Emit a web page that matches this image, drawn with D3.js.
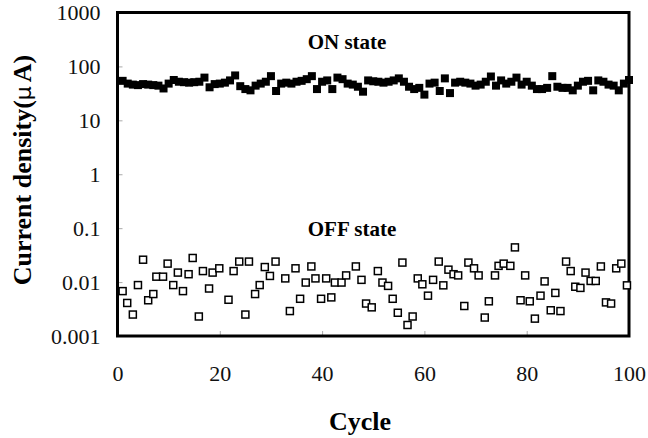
<!DOCTYPE html>
<html>
<head>
<meta charset="utf-8">
<script src="https://cdn.jsdelivr.net/npm/d3@7"></script>
<style>
  body { margin: 0; background: white; }
</style>
</head>
<body>
<div id="chart"></div>
<script>
"use strict"

const onCycles = d3.range(1, 101);
const onValues = [
  54, 48, 46, 45, 47, 46, 45, 44, 39, 48,
  56, 52, 51, 50, 51, 52, 62, 41, 47, 48,
  50, 55, 68, 43, 38, 36, 44, 48, 52, 66,
  35, 48, 50, 48, 52, 54, 58, 66, 38, 52,
  55, 38, 62, 58, 48, 46, 42, 34, 55, 53,
  52, 50, 52, 55, 60, 52, 42, 38, 40, 30,
  48, 50, 35, 60, 32, 50, 52, 50, 48, 44,
  46, 52, 65, 44, 55, 48, 52, 62, 46, 52,
  44, 38, 38, 40, 66, 42, 40, 40, 36, 44,
  52, 54, 36, 55, 52, 46, 44, 36, 48, 56
];

const offCycles = [
  1, 1.9, 3, 4, 5, 6, 7, 7.6, 8.9, 9.8,
  10.9, 11.8, 12.8, 13.9, 14.7, 15.9, 16.7, 17.9, 18.6, 19.9,
  21.7, 22.7, 23.8, 25, 25.7, 26.9, 27.8, 28.8, 29.8, 30.9,
  32.8, 33.7, 34.8, 35.7, 36.8, 37.9, 38.7, 39.8, 40.8, 41.8,
  42.5, 43.8, 44.7, 46.6, 47.7, 48.6, 49.7, 50.9, 51.8, 52.9,
  53.8, 54.8, 55.7, 56.7, 57.7, 58.7, 59.6, 60.7, 61.7, 62.8,
  63.7, 64.7, 65.7, 66.6, 67.8, 68.6, 69.7, 70.6, 71.8, 72.6,
  73.8, 74.5, 75.5, 76.8, 77.7, 78.8, 79.7, 80.6, 81.6, 82.7,
  83.5, 84.7, 85.6, 86.6, 87.7, 88.6, 89.5, 90.5, 91.5, 92.5,
  93.5, 94.5, 95.5, 96.5, 97.5, 98.5, 99.6
];
const offValues = [
  0.0068, 0.0041, 0.0025, 0.0088, 0.026, 0.0046, 0.006, 0.0126, 0.0126, 0.022,
  0.0088, 0.015, 0.0068, 0.014, 0.028, 0.0023, 0.016, 0.0076, 0.015, 0.018,
  0.0047, 0.016, 0.024, 0.0025, 0.024, 0.006, 0.0088, 0.019, 0.013, 0.024,
  0.0117, 0.0029, 0.018, 0.0049, 0.0098, 0.0195, 0.0117, 0.0049, 0.0117, 0.0052,
  0.0098, 0.0098, 0.0133, 0.0195, 0.011, 0.004, 0.0034, 0.016, 0.0098, 0.0085,
  0.0049, 0.0027, 0.023, 0.0016, 0.0023, 0.0117, 0.0091, 0.0056, 0.011, 0.024,
  0.0087, 0.017, 0.014, 0.0133, 0.0036, 0.023, 0.018, 0.0133, 0.0022, 0.0044,
  0.0133, 0.02, 0.022, 0.02, 0.044, 0.0046, 0.0133, 0.0044, 0.0021, 0.0056,
  0.0103, 0.003, 0.0063, 0.0029, 0.024, 0.016, 0.0082, 0.0078, 0.015, 0.0105,
  0.0105, 0.0195, 0.0042, 0.004, 0.018, 0.022, 0.0087
];

const xTicks = [0, 20, 40, 60, 80, 100];
const yTicks = [0.001, 0.01, 0.1, 1, 10, 100, 1000];
const yTickLabels = ["0.001", "0.01", "0.1", "1", "10", "100", "1000"];

const seriesLabels = ["ON state", "OFF state"];
const xTitle = "Cycle";


function render(containerSelector) {
  let width = 648, height = 438;
  let left = 117.5, right = 629, top = 12.5, bottom = 336;
  let font = '"Liberation Serif", "Times New Roman", serif';

  let svg = (
    d3.select(containerSelector)
      .append('svg')
      .attr('width', width)
      .attr('height', height)
      .style('font-family', font));

  let x = d3.scaleLinear().domain([0, 100]).range([left, right]);
  let y = d3.scaleLog().domain([0.001, 1000]).range([bottom, top]);

  // Axes with short grey ticks pointing into the plot
  let xAxis = (svg.append('g')
    .attr('transform', `translate(0,${bottom})`)
    .call(d3.axisBottom(x).tickValues(xTicks).tickSizeInner(-5).tickSizeOuter(0).tickPadding(29)));
  let yAxis = (svg.append('g')
    .attr('transform', `translate(${left},0)`)
    .call(d3.axisLeft(y).tickValues(yTicks).tickFormat((d, i) => yTickLabels[i])
      .tickSizeInner(-5).tickSizeOuter(0).tickPadding(17)));

  for (let ax of [xAxis, yAxis]) {
    ax.select('.domain').remove();
    ax.selectAll('line').attr('stroke', '#aaa');
    (ax.selectAll('text')
      .attr('fill', '#111')
      .style('font-family', font)
      .style('font-size', '22px'));
  }

  // Draw frame
  (svg.append('rect')
    .attr('x', left)
    .attr('y', top)
    .attr('width', right - left)
    .attr('height', bottom - top)
    .attr('fill', 'none')
    .attr('stroke', '#000')
    .attr('stroke-width', 3));

  // Draw ON state points
  let fs = 8;
  (svg.append('g')
    .selectAll('rect')
      .data(onValues)
    .enter()
      .append('rect')
        .attr('x', (d, i) => x(onCycles[i]) - fs / 2)
        .attr('y', (d) => y(d) - fs / 2)
        .attr('width', fs)
        .attr('height', fs)
        .attr('fill', '#000'));

  // Draw OFF state points
  let os = 7;
  (svg.append('g')
    .selectAll('rect')
      .data(offValues)
    .enter()
      .append('rect')
        .attr('x', (d, i) => x(offCycles[i]) - os / 2)
        .attr('y', (d) => y(d) - os / 2)
        .attr('width', os)
        .attr('height', os)
        .attr('fill', '#fff')
        .attr('stroke', '#000')
        .attr('stroke-width', 1.5));

  // Series labels
  (svg.selectAll('text.series')
    .data(seriesLabels)
    .enter()
      .append('text')
        .attr('class', 'series')
        .attr('x', (d, i) => i == 0 ? 347 : 352)
        .attr('y', (d, i) => i == 0 ? 49 : 236)
        .attr('text-anchor', 'middle')
        .style('font-size', '21px')
        .style('font-weight', 'bold')
        .text((d) => d));

  // Axis titles
  (svg.append('text')
    .attr('x', 360)
    .attr('y', 430)
    .attr('text-anchor', 'middle')
    .style('font-size', '26px')
    .style('font-weight', 'bold')
    .text(xTitle));

  let yt = (svg.append('text')
    .attr('transform', 'translate(31,170) rotate(-90)')
    .attr('text-anchor', 'middle')
    .style('font-size', '26px')
    .style('font-weight', 'bold'));
  yt.append('tspan').text('Current density(');
  yt.append('tspan').style('font-weight', 'normal').style('font-family', '"DejaVu Sans", sans-serif').style('font-size', '22px').text('μ');
  yt.append('tspan').attr('dx', 4).text('A)');
}

render('#chart');
</script>
</body>
</html>
